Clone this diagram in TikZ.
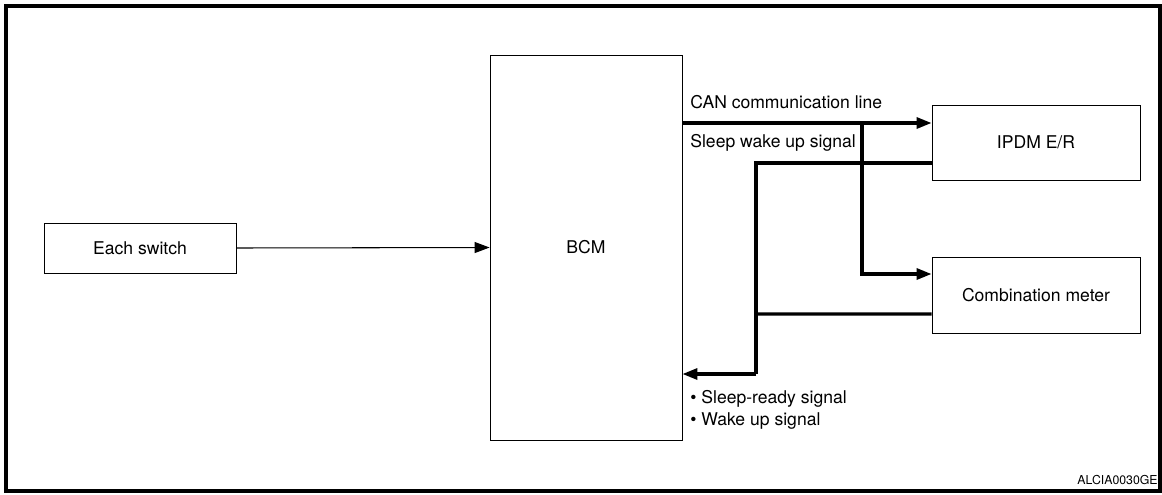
\documentclass[tikz,border=0pt]{standalone}
\usepackage{fontspec}
\setmainfont{TeX Gyre Heros}
\usetikzlibrary{arrows.meta}

\tikzset{
  box/.style={draw, line width=0.5pt, fill=white, font=\fontsize{10}{12}\selectfont},
  bus/.style={line width=1.8pt},
  sig/.style={line width=0.6pt},
  tip/.style={-{Triangle[length=0.3cm,width=0.22cm]}},
  lbl/.style={anchor=base west, inner sep=0pt, font=\fontsize{10}{12}\selectfont}
}

\begin{document}
\begin{tikzpicture}[x=0.02cm, y=-0.02cm]
\useasboundingbox (0,0) rectangle (1162,494);

\draw[line width=1.8pt] (6,6) rectangle (1160,491);

\node[box, minimum width=3.84cm, minimum height=1cm] (sw) at (140,248) {Each switch};
\node[box, minimum width=3.84cm, minimum height=7.7cm] (bcm) at (586,247.5) {BCM};
\node[box, minimum width=4.16cm, minimum height=1.5cm] (ipdm) at (1036,142.5) {IPDM E/R};
\node[box, minimum width=4.16cm, minimum height=1.52cm] (meter) at (1036,295) {Combination meter};

\coordinate (tap) at (862,123);
\coordinate (drop) at (862,274);
\coordinate (ret) at (756,374);

\draw[sig, tip] (sw.east) -- (bcm.west);

% CAN line
\draw[bus, tip] (bcm.east |- tap) -- (ipdm.west |- tap);
\draw[bus, tip] (tap) -- (drop) -- (meter.west |- drop);

% sleep / wake up return
\draw[bus] ([yshift=-0.41cm]ipdm.west) -| (ret);
\draw[bus] ([yshift=-0.38cm]meter.west) -- (ret |- 0,314);
\draw[bus, tip] (ret) -- (bcm.east |- ret);

\node[lbl] (can) at (690,108) {CAN communication line};
\node[lbl] (swk) at (690,147) {Sleep wake up signal};
\node[lbl] (rdy) at (690,403) {• Sleep-ready signal};
\node[lbl] (wku) at (690,425) {• Wake up signal};
\node[anchor=east, inner sep=0pt, font=\fontsize{7}{9}\selectfont] (code) at (1158,480) {ALCIA0030GE};

\end{tikzpicture}
\end{document}
